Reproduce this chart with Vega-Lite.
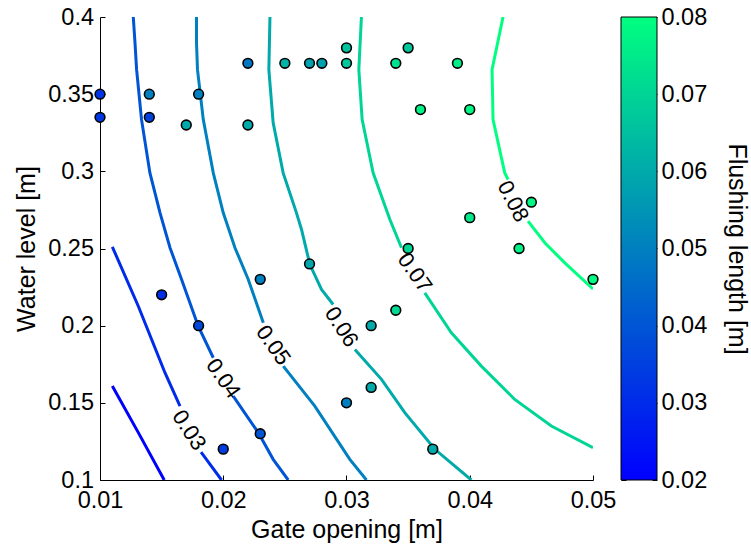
{
  "$schema": "https://vega.github.io/schema/vega-lite/v6.json",
  "background": "white",
  "padding": {"left": 14, "top": 5, "right": 2, "bottom": 2},
  "spacing": 28,
  "bounds": "flush",
  "config": {
    "view": {"stroke": null},
    "font": "Liberation Sans",
    "axis": {
      "grid": false,
      "domainColor": "black",
      "tickColor": "black",
      "labelColor": "black",
      "titleColor": "black",
      "labelFont": "Liberation Sans",
      "titleFont": "Liberation Sans",
      "labelFontSize": 23.5,
      "titleFontSize": 25,
      "titleFontWeight": "normal",
      "labelFlush": false,
      "labelOverlap": false,
      "tickSize": -5,
      "tickWidth": 1,
      "domainWidth": 1
    }
  },
  "datasets": {
    "points": [
      {"x": 0.01, "y": 0.35, "fl": 0.032},
      {"x": 0.01, "y": 0.335, "fl": 0.033},
      {"x": 0.014, "y": 0.35, "fl": 0.05},
      {"x": 0.014, "y": 0.335, "fl": 0.035},
      {"x": 0.018, "y": 0.35, "fl": 0.05},
      {"x": 0.017, "y": 0.33, "fl": 0.06},
      {"x": 0.022, "y": 0.37, "fl": 0.048},
      {"x": 0.022, "y": 0.33, "fl": 0.06},
      {"x": 0.025, "y": 0.37, "fl": 0.062},
      {"x": 0.027, "y": 0.37, "fl": 0.058},
      {"x": 0.028, "y": 0.37, "fl": 0.058},
      {"x": 0.03, "y": 0.38, "fl": 0.066},
      {"x": 0.03, "y": 0.37, "fl": 0.067},
      {"x": 0.035, "y": 0.38, "fl": 0.067},
      {"x": 0.034, "y": 0.37, "fl": 0.073},
      {"x": 0.039, "y": 0.37, "fl": 0.076},
      {"x": 0.036, "y": 0.34, "fl": 0.077},
      {"x": 0.04, "y": 0.34, "fl": 0.078},
      {"x": 0.045, "y": 0.28, "fl": 0.078},
      {"x": 0.04, "y": 0.27, "fl": 0.075},
      {"x": 0.035, "y": 0.25, "fl": 0.07},
      {"x": 0.044, "y": 0.25, "fl": 0.077},
      {"x": 0.05, "y": 0.23, "fl": 0.079},
      {"x": 0.034, "y": 0.21, "fl": 0.071},
      {"x": 0.032, "y": 0.2, "fl": 0.06},
      {"x": 0.032, "y": 0.16, "fl": 0.06},
      {"x": 0.03, "y": 0.15, "fl": 0.05},
      {"x": 0.037, "y": 0.12, "fl": 0.06},
      {"x": 0.027, "y": 0.24, "fl": 0.059},
      {"x": 0.023, "y": 0.23, "fl": 0.05},
      {"x": 0.015, "y": 0.22, "fl": 0.031},
      {"x": 0.018, "y": 0.2, "fl": 0.037},
      {"x": 0.023, "y": 0.13, "fl": 0.04},
      {"x": 0.02, "y": 0.12, "fl": 0.034}
    ],
    "contours": [
      {"lv": 0.02, "s": "02", "i": 0, "x": 0.0110, "y": 0.1609},
      {"lv": 0.02, "s": "02", "i": 1, "x": 0.01311, "y": 0.1307},
      {"lv": 0.02, "s": "02", "i": 2, "x": 0.01521, "y": 0.1},

      {"lv": 0.03, "s": "03a", "i": 0, "x": 0.0110, "y": 0.2511},
      {"lv": 0.03, "s": "03a", "i": 1, "x": 0.01311, "y": 0.2126},
      {"lv": 0.03, "s": "03a", "i": 2, "x": 0.01527, "y": 0.1695},
      {"lv": 0.03, "s": "03a", "i": 3, "x": 0.01649, "y": 0.1479},
      {"lv": 0.03, "s": "03b", "i": 0, "x": 0.0182, "y": 0.118},
      {"lv": 0.03, "s": "03b", "i": 1, "x": 0.01986, "y": 0.1},

      {"lv": 0.04, "s": "04a", "i": 0, "x": 0.0127, "y": 0.4},
      {"lv": 0.04, "s": "04a", "i": 1, "x": 0.01284, "y": 0.3832},
      {"lv": 0.04, "s": "04a", "i": 2, "x": 0.01297, "y": 0.3659},
      {"lv": 0.04, "s": "04a", "i": 3, "x": 0.01337, "y": 0.3335},
      {"lv": 0.04, "s": "04a", "i": 4, "x": 0.01405, "y": 0.2990},
      {"lv": 0.04, "s": "04a", "i": 5, "x": 0.01487, "y": 0.2731},
      {"lv": 0.04, "s": "04a", "i": 6, "x": 0.01568, "y": 0.2505},
      {"lv": 0.04, "s": "04a", "i": 7, "x": 0.01662, "y": 0.2299},
      {"lv": 0.04, "s": "04a", "i": 8, "x": 0.01797, "y": 0.1997},
      {"lv": 0.04, "s": "04a", "i": 9, "x": 0.01919, "y": 0.1792},
      {"lv": 0.04, "s": "04b", "i": 0, "x": 0.02081, "y": 0.1544},
      {"lv": 0.04, "s": "04b", "i": 1, "x": 0.02284, "y": 0.1307},
      {"lv": 0.04, "s": "04b", "i": 2, "x": 0.02405, "y": 0.1134},
      {"lv": 0.04, "s": "04b", "i": 3, "x": 0.02527, "y": 0.1},

      {"lv": 0.05, "s": "05a", "i": 0, "x": 0.01783, "y": 0.4},
      {"lv": 0.05, "s": "05a", "i": 1, "x": 0.01783, "y": 0.3832},
      {"lv": 0.05, "s": "05a", "i": 2, "x": 0.01791, "y": 0.3659},
      {"lv": 0.05, "s": "05a", "i": 3, "x": 0.01838, "y": 0.3335},
      {"lv": 0.05, "s": "05a", "i": 4, "x": 0.01919, "y": 0.2990},
      {"lv": 0.05, "s": "05a", "i": 5, "x": 0.0200, "y": 0.2731},
      {"lv": 0.05, "s": "05a", "i": 6, "x": 0.02095, "y": 0.2505},
      {"lv": 0.05, "s": "05a", "i": 7, "x": 0.02203, "y": 0.2299},
      {"lv": 0.05, "s": "05a", "i": 8, "x": 0.02325, "y": 0.2019},
      {"lv": 0.05, "s": "05b", "i": 0, "x": 0.02487, "y": 0.1738},
      {"lv": 0.05, "s": "05b", "i": 1, "x": 0.02743, "y": 0.1479},
      {"lv": 0.05, "s": "05b", "i": 2, "x": 0.03027, "y": 0.1134},
      {"lv": 0.05, "s": "05b", "i": 3, "x": 0.03162, "y": 0.1},

      {"lv": 0.06, "s": "06a", "i": 0, "x": 0.02379, "y": 0.4},
      {"lv": 0.06, "s": "06a", "i": 1, "x": 0.02370, "y": 0.3659},
      {"lv": 0.06, "s": "06a", "i": 2, "x": 0.02405, "y": 0.3314},
      {"lv": 0.06, "s": "06a", "i": 3, "x": 0.02486, "y": 0.2990},
      {"lv": 0.06, "s": "06a", "i": 4, "x": 0.02594, "y": 0.2731},
      {"lv": 0.06, "s": "06a", "i": 5, "x": 0.02635, "y": 0.2623},
      {"lv": 0.06, "s": "06a", "i": 6, "x": 0.02703, "y": 0.2396},
      {"lv": 0.06, "s": "06a", "i": 7, "x": 0.02797, "y": 0.2235},
      {"lv": 0.06, "s": "06a", "i": 8, "x": 0.02892, "y": 0.2137},
      {"lv": 0.06, "s": "06b", "i": 0, "x": 0.03068, "y": 0.1846},
      {"lv": 0.06, "s": "06b", "i": 1, "x": 0.03284, "y": 0.1652},
      {"lv": 0.06, "s": "06b", "i": 2, "x": 0.03473, "y": 0.1436},
      {"lv": 0.06, "s": "06b", "i": 3, "x": 0.03717, "y": 0.1199},
      {"lv": 0.06, "s": "06b", "i": 4, "x": 0.04013, "y": 0.1},

      {"lv": 0.07, "s": "07a", "i": 0, "x": 0.03121, "y": 0.4},
      {"lv": 0.07, "s": "07a", "i": 1, "x": 0.03100, "y": 0.3659},
      {"lv": 0.07, "s": "07a", "i": 2, "x": 0.03127, "y": 0.3335},
      {"lv": 0.07, "s": "07a", "i": 3, "x": 0.03216, "y": 0.2990},
      {"lv": 0.07, "s": "07a", "i": 4, "x": 0.03352, "y": 0.2688},
      {"lv": 0.07, "s": "07a", "i": 5, "x": 0.03446, "y": 0.2505},
      {"lv": 0.07, "s": "07b", "i": 0, "x": 0.03635, "y": 0.2213},
      {"lv": 0.07, "s": "07b", "i": 1, "x": 0.03851, "y": 0.1954},
      {"lv": 0.07, "s": "07b", "i": 2, "x": 0.04094, "y": 0.1738},
      {"lv": 0.07, "s": "07b", "i": 3, "x": 0.04365, "y": 0.1522},
      {"lv": 0.07, "s": "07b", "i": 4, "x": 0.04662, "y": 0.1350},
      {"lv": 0.07, "s": "07b", "i": 5, "x": 0.05, "y": 0.1210},

      {"lv": 0.08, "s": "08a", "i": 0, "x": 0.04270, "y": 0.4},
      {"lv": 0.08, "s": "08a", "i": 1, "x": 0.04181, "y": 0.3659},
      {"lv": 0.08, "s": "08a", "i": 2, "x": 0.04189, "y": 0.3335},
      {"lv": 0.08, "s": "08a", "i": 3, "x": 0.04284, "y": 0.2990},
      {"lv": 0.08, "s": "08a", "i": 4, "x": 0.04311, "y": 0.2947},
      {"lv": 0.08, "s": "08b", "i": 0, "x": 0.04473, "y": 0.2677},
      {"lv": 0.08, "s": "08b", "i": 1, "x": 0.04609, "y": 0.2537},
      {"lv": 0.08, "s": "08b", "i": 2, "x": 0.04771, "y": 0.2407},
      {"lv": 0.08, "s": "08b", "i": 3, "x": 0.05, "y": 0.2238}
    ],
    "labels": [
      {"t": "0.03", "x": 0.01723, "y": 0.1323},
      {"t": "0.04", "x": 0.0200, "y": 0.1658},
      {"t": "0.05", "x": 0.02405, "y": 0.1873},
      {"t": "0.06", "x": 0.02959, "y": 0.1992},
      {"t": "0.07", "x": 0.03554, "y": 0.2343},
      {"t": "0.08", "x": 0.04351, "y": 0.2806}
    ],
    "bar": [
      {"lo": 0.02, "hi": 0.08}
    ]
  },
  "hconcat": [
    {
      "width": 493,
      "height": 463,
      "encoding": {
        "x": {
          "field": "x", "type": "quantitative",
          "scale": {"domain": [0.01, 0.05], "nice": false, "zero": false},
          "axis": {"title": "Gate opening [m]", "values": [0.01, 0.02, 0.03, 0.04, 0.05], "format": ".2f", "labelPadding": 13, "titlePadding": 6}
        },
        "y": {
          "field": "y", "type": "quantitative",
          "scale": {"domain": [0.1, 0.4], "nice": false, "zero": false},
          "axis": {"title": "Water level [m]", "values": [0.1, 0.15, 0.2, 0.25, 0.3, 0.35, 0.4], "format": "~g", "labelPadding": 11.5, "titlePadding": 8}
        }
      },
      "layer": [
        {
          "data": {"name": "contours"},
          "mark": {"type": "line", "strokeWidth": 3, "clip": true},
          "encoding": {
            "detail": {"field": "s", "type": "nominal"},
            "order": {"field": "i", "type": "quantitative"},
            "stroke": {"field": "lv", "type": "quantitative", "scale": {"domain": [0.02, 0.08], "range": ["#0000ff", "#00ff80"], "interpolate": "rgb"}, "legend": null}
          }
        },
        {
          "data": {"name": "labels"},
          "transform": [{"filter": "datum.t == '0.04' || datum.t == '0.05' || datum.t == '0.07'"}],
          "mark": {"type": "text", "angle": 55, "fontSize": 22, "font": "Liberation Sans", "color": "black", "align": "center", "baseline": "middle"},
          "encoding": {"text": {"field": "t", "type": "nominal"}}
        },
        {
          "data": {"name": "labels"},
          "transform": [{"filter": "datum.t == '0.03' || datum.t == '0.06'"}],
          "mark": {"type": "text", "angle": 57, "fontSize": 22, "font": "Liberation Sans", "color": "black", "align": "center", "baseline": "middle"},
          "encoding": {"text": {"field": "t", "type": "nominal"}}
        },
        {
          "data": {"name": "labels"},
          "transform": [{"filter": "datum.t == '0.08'"}],
          "mark": {"type": "text", "angle": 63, "fontSize": 22, "font": "Liberation Sans", "color": "black", "align": "center", "baseline": "middle"},
          "encoding": {"text": {"field": "t", "type": "nominal"}}
        },
        {
          "data": {"name": "points"},
          "mark": {"type": "point", "shape": "circle", "filled": true, "size": 95, "stroke": "black", "strokeWidth": 1.6, "opacity": 1},
          "encoding": {
            "fill": {"field": "fl", "type": "quantitative", "scale": {"domain": [0.02, 0.08], "range": ["#0000ff", "#00ff80"], "interpolate": "rgb"}, "legend": null}
          }
        }
      ]
    },
    {
      "width": 36,
      "height": 463,
      "data": {"name": "bar"},
      "encoding": {
        "x": {"datum": 0, "type": "quantitative", "scale": {"domain": [0, 1]}, "axis": null},
        "x2": {"datum": 1}
      },
      "layer": [
        {
          "mark": {"type": "rect", "stroke": "black", "strokeWidth": 1,
            "fill": {"gradient": "linear", "x1": 0, "y1": 1, "x2": 0, "y2": 0,
              "stops": [{"offset": 0, "color": "#0000ff"}, {"offset": 1, "color": "#00ff80"}]}},
          "encoding": {
            "y": {"field": "lo", "type": "quantitative", "scale": {"domain": [0.02, 0.08], "nice": false, "zero": false},
              "axis": {"orient": "right", "title": "Flushing length [m]", "values": [0.02, 0.03, 0.04, 0.05, 0.06, 0.07, 0.08], "format": ".2f", "domain": false, "labelPadding": 9, "titlePadding": 17, "titleAngle": 90}},
            "y2": {"field": "hi"}
          }
        },
        {
          "mark": {"type": "rect", "fillOpacity": 0, "strokeOpacity": 0},
          "encoding": {
            "y": {"field": "lo", "type": "quantitative", "scale": {"domain": [0.02, 0.08], "nice": false, "zero": false},
              "axis": {"orient": "left", "title": null, "labels": false, "domain": false, "values": [0.02, 0.03, 0.04, 0.05, 0.06, 0.07, 0.08]}},
            "y2": {"field": "hi"}
          }
        }
      ],
      "resolve": {"axis": {"y": "independent"}}
    }
  ]
}
